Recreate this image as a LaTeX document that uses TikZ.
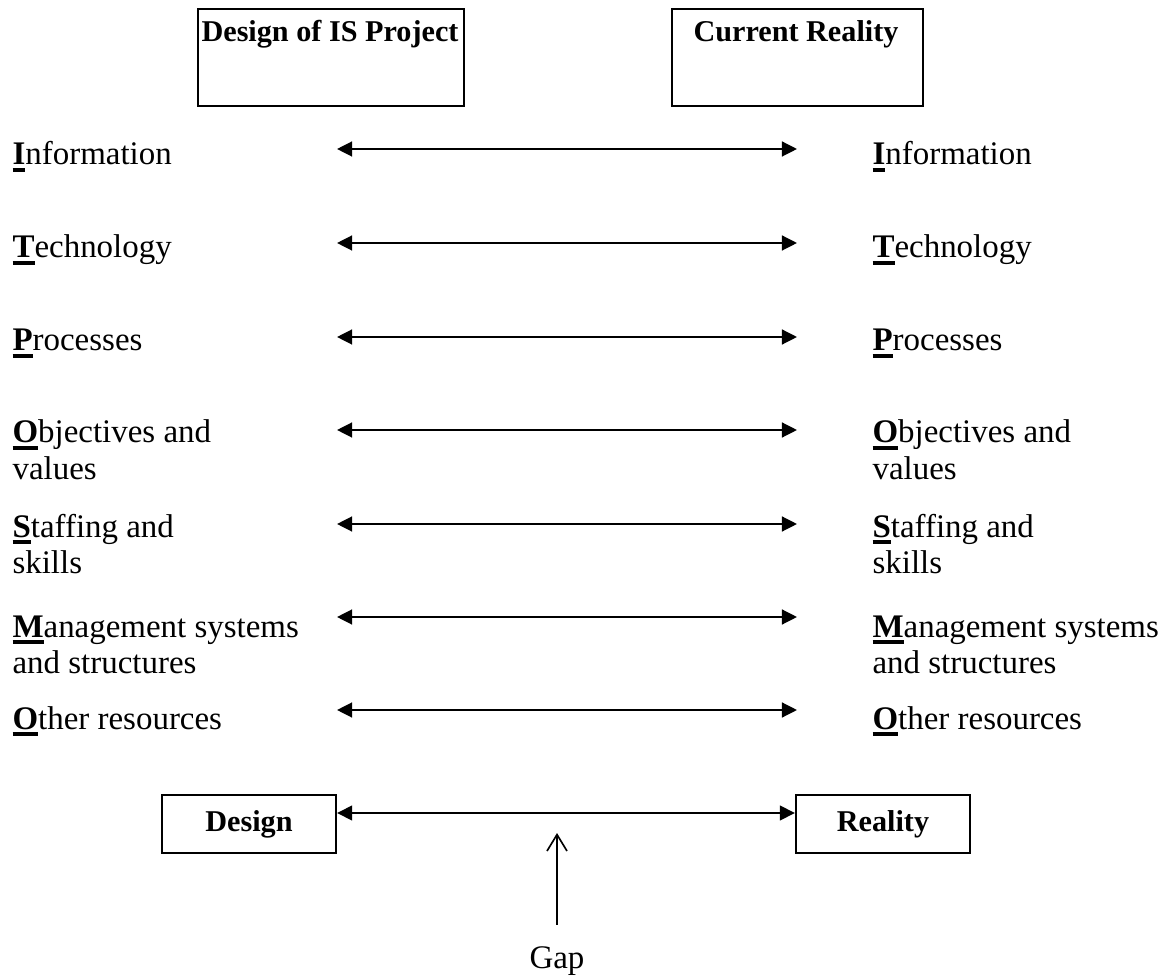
\documentclass[tikz,border=0pt]{standalone}
\usepackage{fontspec}
\setmainfont{Liberation Serif}
\usetikzlibrary{arrows.meta,positioning}

% bold first letter with a heavy underline
\newcommand{\keyletter}[1]{\setbox0\hbox{\textbf{#1}}\rlap{\rule[-2.4pt]{\wd0}{1.2pt}}\box0}
% label lines, hung from the baseline of the first line
\newcommand{\rowtext}[1]{\begin{tabular}[t]{@{}l@{}}#1\end{tabular}}

\begin{document}
\begin{tikzpicture}[
  x=0.0128cm, y=-0.0128cm,
  >={Triangle[length=5.5pt,width=5.4pt]},
  every node/.style={font=\fontsize{12}{13.4}\selectfont},
  itlabel/.style={anchor=base west, inner sep=0pt},
  boxtitle/.style={anchor=base, font=\fontsize{11}{13}\selectfont\bfseries},
  topbox/.style={draw, line width=0.75pt, anchor=north west,
    minimum height=1.24cm, inner sep=0pt},
  endbox/.style={draw, line width=0.75pt, minimum width=2.23cm,
    minimum height=0.74cm, font=\fontsize{11}{13}\selectfont\bfseries},
  link/.style={<->, line width=0.75pt}
]
  \useasboundingbox (0,0) rectangle (1163,976);

  % the two views at the top
  \node[topbox, minimum width=3.4cm] (plan) at (197,8) {};
  \node[boxtitle] (plantitle) at (330,42) {Design of IS Project};
  \node[topbox, minimum width=3.21cm] (now) at (671,8) {};
  \node[boxtitle] (nowtitle) at (796,42) {Current Reality};

  % ITPOSMO rows
  \foreach \y/\b/\k/\rest [count=\i] in {
      149/165/I/nformation,
      243/258/T/echnology,
      337/351/P/rocesses,
      430/443/O/{bjectives and\\values},
      524/537/S/{taffing and\\skills},
      617/637/M/{anagement systems\\and structures},
      710/729/O/{ther resources}} {
    \node[itlabel] (left\i) at (12,\b) {\rowtext{\keyletter{\k}\rest}};
    \node[itlabel] (right\i) at (872,\b) {\rowtext{\keyletter{\k}\rest}};
    \coordinate (from\i) at (337,\y);
    \coordinate (to\i) at (797,\y);
    \draw[link] (from\i) -- (to\i);
  }

  % the gap between design and reality
  \node[endbox] (design) at (249,824) {Design};
  \node[endbox] (reality) at (883,824) {Reality};
  \draw[link] (design.east |- 0,813) -- (reality.west |- 0,813);
  \node[anchor=base, inner ysep=7.6pt] (gap) at (557,968) {Gap};
  \coordinate (gaptip) at (557,833);
  \draw[-{Straight Barb[length=6pt,width=7.3pt]}, line width=0.6pt] (gap.north) -- (gaptip);
\end{tikzpicture}
\end{document}
